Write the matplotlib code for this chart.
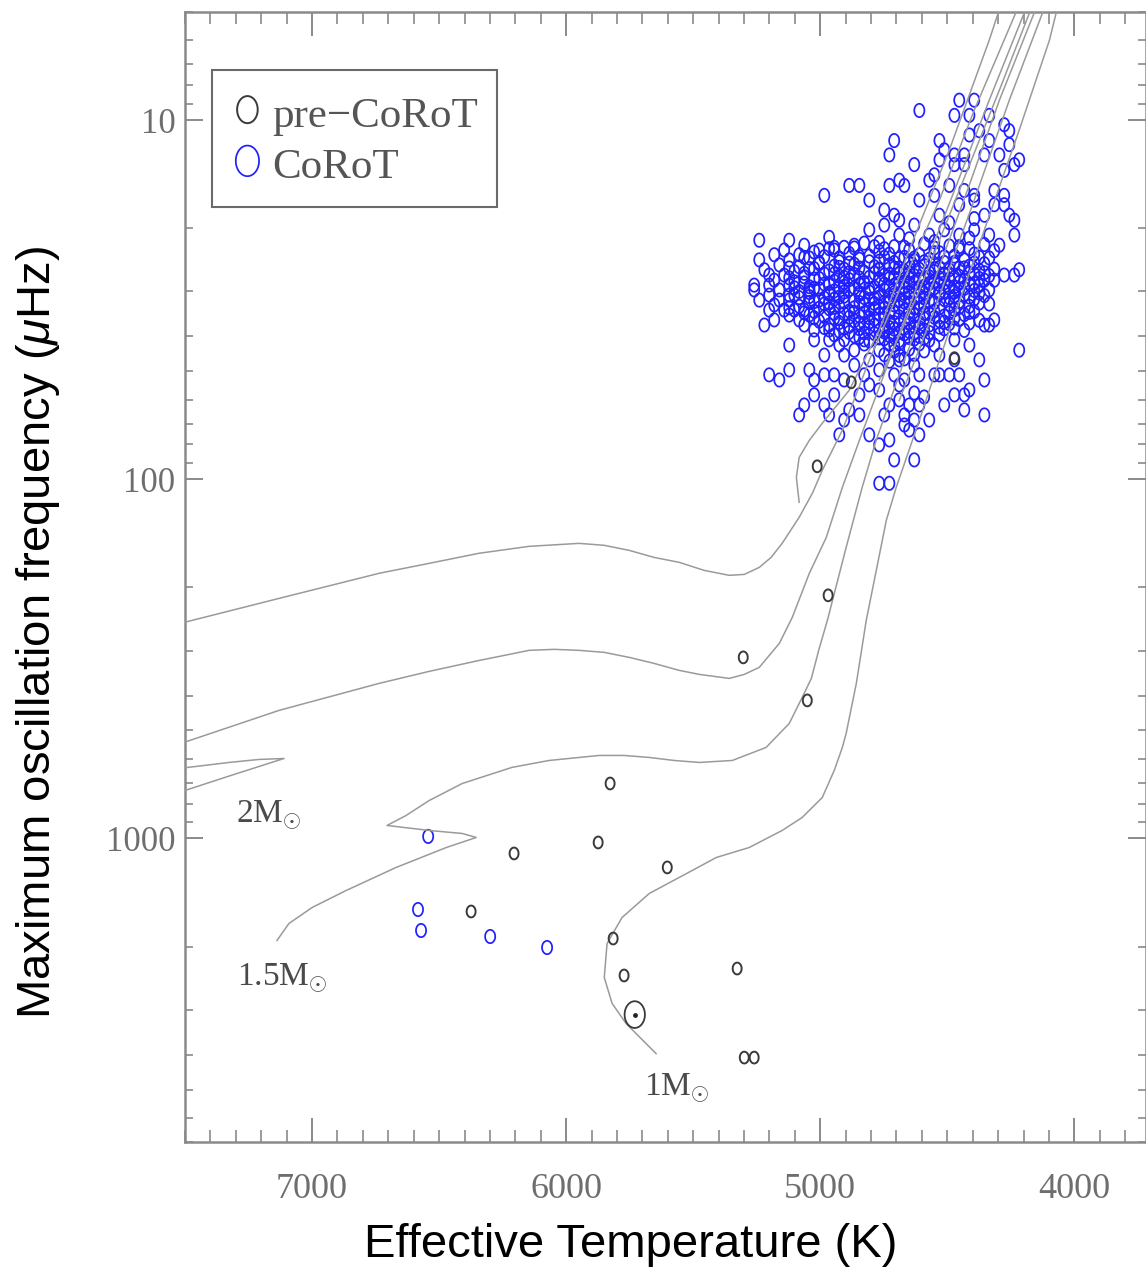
import numpy as np
import matplotlib
matplotlib.use("Agg")
import matplotlib.pyplot as plt
from matplotlib.path import Path
from matplotlib.ticker import FixedLocator, MultipleLocator, LogLocator, NullFormatter
from matplotlib.font_manager import FontProperties

plt.rcParams['mathtext.fontset'] = 'custom'
plt.rcParams['mathtext.rm'] = 'Liberation Sans'
plt.rcParams['mathtext.it'] = 'Liberation Sans:italic'

# ---------------- evolutionary tracks (Teff [K], numax [muHz]) ----------------
trackA_teff = [7520, 7130, 6736, 6539, 6343, 6146, 5949, 5850, 5752, 5654, 5555, 5457, 5358, 5299,
               5240, 5193, 5150, 5083, 5031, 4992, 4913, 4807, 4689, 4531, 4394, 4209]
trackA_numax = [252, 214.6, 182.7, 171.4, 160.7, 153.7, 150.8, 152.7, 157.7, 165.0, 170.3, 179.3,
                185.1, 184.0, 175.9, 164.9, 150.8, 127.6, 109.4, 94.4, 73.0, 46.6, 29.8, 16.7,
                9.38, 4.63]

track2_teff = [7524, 7319, 7110, 7209, 7327, 7457, 7524, 7560, 7560, 7524, 7130, 6736, 6539,
               6343, 6244, 6146, 6047, 5949, 5850, 5752, 5654, 5555, 5476, 5358, 5299, 5240,
               5161, 5110, 5043, 4976, 4913, 4846, 4728, 4610, 4472, 4335, 4177]
track2_numax = [744.6, 667.6, 598.8, 602.6, 614.3, 630.2, 638.3, 638.3, 546.1, 546.1, 440, 370,
                342.6, 319.5, 309.3, 299.4, 297.5, 299.4, 303.3, 313.2, 325.5, 340.4, 349.3,
                358.4, 349.3, 333.9, 286.3, 242.3, 182.7, 145.0, 105.3, 77.9, 46.6, 27.9, 15.7,
                8.80, 4.63]

track15_teff = [7138, 7091, 7000, 6866, 6669, 6472, 6354, 6409, 6539, 6705, 6630, 6539, 6409,
                6213, 6067, 5870, 5772, 5673, 5575, 5476, 5346, 5213, 5122, 5071, 5035, 5004,
                4972, 4898, 4835, 4780, 4669, 4551, 4421, 4295, 4138]
track15_numax = [1923, 1725, 1557, 1396, 1204, 1060, 993.6, 968.5, 950, 920, 863, 784, 703, 634,
                 606.5, 587.3, 587.3, 594.9, 606.5, 614.3, 606.5, 557.8, 478.4, 404.8, 358.4,
                 295.6, 247.1, 154.7, 105.3, 77.9, 46.6, 27.9, 15.7, 8.80, 4.63]

track1_teff = [5646, 5764, 5819, 5850, 5839, 5780, 5673, 5504, 5409, 5280, 5150, 5071, 4992,
               4945, 4913, 4898, 4858, 4819, 4740, 4701, 4610, 4492, 4354, 4217, 4098, 4059]
track1_numax = [3972, 3276, 2880, 2439, 1961, 1660, 1423, 1228, 1129.6, 1060, 950, 874, 769,
                646.7, 557.8, 509.8, 370, 247.1, 130.1, 105.3, 68.5, 38.5, 20.2, 10.66, 5.99, 4.63]

loop_teff = [5083, 5094, 5083, 5043, 4992, 4886, 4768, 4650, 4492, 4335, 4283]
loop_numax = [115.9, 98.7, 86.9, 77.9, 69.8, 56.5, 38.5, 23.0, 12.1, 5.99, 4.63]
agb1_teff = [4768, 4610, 4453, 4295, 4157]
agb1_numax = [53.0, 29.8, 15.7, 8.25, 4.63]
agb2_teff = [4689, 4551, 4394, 4256, 4106]
agb2_numax = [60.3, 33.8, 16.7, 8.80, 4.63]

# ---------------- pre-CoRoT stars ----------------
pre_teff = [5012, 4878, 4472, 4969, 5303, 5051, 5827, 5874, 6205, 5602, 6374, 5815, 5772, 5327, 5299, 5260]
pre_numax = [92.0, 53.7, 46.0, 210.4, 313.2, 412.7, 703, 1026, 1101, 1204, 1597, 1899, 2407, 2302, 4074, 4074]
sun_teff = [5730]
sun_numax = [3093]

# ---------------- CoRoT stars ----------------
corot_dwarfs = [(6543, 987), (6583, 1577), (6571, 1804), (6299, 1875), (6075, 2012)]

corot_upper = [
    (4610, 9.4), (4453, 8.8), (4394, 8.8), (4472, 9.7), (4413, 9.7), (4335, 9.7), (4276, 10.3),
    (4256, 10.7), (4256, 11.7), (4413, 11.0), (4374, 10.7), (4531, 11.4), (4512, 12.1), (4335, 11.4),
    (4354, 12.5), (4295, 12.5), (4709, 11.4), (4728, 12.5), (4630, 13.3), (4531, 12.9), (4472, 12.5),
    (4433, 12.5), (4217, 12.9), (4236, 13.3), (4276, 13.8), (4551, 14.2), (4472, 13.3), (4433, 13.3),
    (4728, 15.2), (4689, 14.7), (4669, 15.2), (4571, 14.7), (4492, 15.2), (4433, 15.7), (4394, 16.2),
    (4315, 15.7), (4276, 16.2), (4276, 17.2), (4256, 18.4), (4236, 19.0), (4236, 20.9), (4886, 15.2),
    (4846, 15.2), (4984, 16.2), (4807, 16.7), (4748, 17.8), (4709, 18.4), (4610, 16.7), (4551, 16.2),
    (4531, 18.4), (4453, 17.2), (4394, 16.7), (4354, 18.4), (4315, 17.2), (5240, 21.6), (5240, 24.5),
    (5201, 27.0), (5260, 28.8), (5083, 23.7), (5004, 23.0), (4945, 23.0), (4866, 22.3), (4807, 20.2),
    (4748, 19.6), (4689, 20.9), (4630, 19.6), (4571, 20.9), (4512, 20.2), (4453, 20.9), (4394, 20.2),
    (4335, 20.9), (4295, 22.3), (4236, 27.0), (4276, 27.0), (4315, 27.9), (4217, 26.1), (4217, 43.7),
    (4354, 37.2), (4315, 36.0), (4689, 19.0), (4492, 19.3), (4394, 18.8),
]

corot_core = [
    (5122, 21.6), (4965, 21.2), (4768, 21.9), (4650, 21.4), (4551, 21.8), (4413, 21.3),
    (5063, 22.3), (4906, 22.6), (4827, 22.0), (4709, 22.5), (4591, 22.1), (4492, 22.4), (4413, 22.8), (4354, 22.2),
    (5142, 23.0), (5024, 23.3), (4965, 22.8), (4768, 23.2), (4650, 23.0), (4531, 23.4), (4453, 22.9), (4315, 23.1),
    (5181, 23.7), (4984, 24.0), (4886, 23.5), (4807, 23.9), (4728, 23.6), (4669, 24.1), (4610, 23.7), (4551, 23.4),
    (4472, 23.9), (4394, 23.6),
    (5122, 24.5), (5043, 24.2), (4925, 24.8), (4846, 24.4), (4768, 24.7), (4689, 24.3), (4630, 24.6), (4571, 24.4),
    (4512, 24.9), (4433, 24.5), (4335, 24.2),
    (5161, 25.3), (5083, 25.6), (5004, 25.1), (4945, 25.5), (4866, 25.2), (4787, 25.6), (4728, 25.3), (4650, 25.0),
    (4591, 25.4), (4531, 25.7), (4472, 25.2), (4413, 25.5), (4354, 25.1),
    (5220, 26.1), (5102, 26.4), (5024, 25.9), (4965, 26.3), (4906, 26.0), (4827, 26.5), (4768, 26.1), (4709, 25.8),
    (4669, 26.3), (4610, 26.0), (4551, 26.4), (4492, 26.1), (4433, 25.8), (4374, 26.2), (4315, 26.0),
    (5142, 27.0), (5063, 27.3), (4984, 26.8), (4925, 27.2), (4866, 26.9), (4807, 27.4), (4748, 27.0), (4689, 26.7),
    (4630, 27.1), (4571, 27.3), (4512, 26.9), (4453, 27.2), (4394, 26.8), (4335, 27.1),
    (5181, 27.9), (5102, 28.2), (5024, 27.7), (4945, 28.1), (4886, 27.8), (4827, 28.3), (4768, 27.9), (4728, 27.6),
    (4669, 28.2), (4610, 27.8), (4551, 28.1), (4492, 27.7), (4433, 28.0), (4354, 27.9),
    (5122, 28.8), (5043, 29.1), (4984, 28.6), (4906, 29.0), (4846, 28.7), (4787, 29.2), (4709, 28.8), (4650, 28.5),
    (4591, 29.0), (4531, 28.7), (4472, 29.1), (4413, 28.6), (4374, 28.9),
    (5161, 29.7), (5083, 30.0), (5004, 29.5), (4945, 29.9), (4886, 29.6), (4807, 30.1), (4748, 29.7), (4689, 29.4),
    (4630, 29.9), (4571, 29.6), (4512, 30.0), (4453, 29.5), (4394, 29.8), (4335, 29.7),
    (5201, 30.7), (5043, 31.0), (4965, 30.5), (4906, 30.9), (4846, 30.6), (4768, 31.1), (4709, 30.7), (4669, 30.4),
    (4610, 30.8), (4531, 30.5), (4472, 30.9), (4433, 30.6), (4354, 30.8),
    (5122, 31.7), (5024, 32.0), (4945, 31.5), (4866, 31.9), (4807, 31.6), (4748, 32.1), (4689, 31.7), (4630, 31.4),
    (4571, 31.9), (4512, 31.6), (4453, 32.0), (4394, 31.5),
    (5181, 32.7), (5083, 33.0), (4984, 32.5), (4925, 32.9), (4827, 32.6), (4768, 33.1), (4709, 32.7), (4650, 32.4),
    (4591, 32.9), (4492, 32.6), (4413, 33.0), (4335, 32.5),
    (5102, 33.8), (5024, 34.1), (4965, 33.5), (4886, 34.0), (4807, 33.6), (4728, 34.2), (4669, 33.8), (4610, 33.5),
    (4551, 34.0), (4472, 33.7), (4394, 34.1),
    (5043, 34.9), (4984, 35.2), (4906, 34.6), (4846, 35.1), (4768, 34.7), (4689, 35.3), (4630, 34.9), (4571, 34.6),
    (4512, 35.1), (4433, 34.8),
    (5083, 36.0), (5004, 36.3), (4925, 35.7), (4866, 36.2), (4787, 35.8), (4728, 36.4), (4669, 36.0), (4591, 35.7),
    (4531, 36.2), (4453, 35.9), (4374, 36.1),
    (4965, 37.2), (4886, 37.5), (4827, 36.9), (4748, 37.4), (4689, 37.0), (4630, 37.6), (4571, 37.2), (4492, 36.9),
    (5024, 38.4), (4925, 38.7), (4846, 38.1), (4768, 38.6), (4709, 38.2), (4650, 38.8), (4591, 38.4), (4512, 38.1),
    (4433, 38.5),
    (4945, 39.6), (4866, 39.9), (4787, 39.3), (4728, 39.8), (4669, 39.4), (4610, 40.0), (4531, 39.5),
    (4906, 40.9), (4807, 41.2), (4748, 40.6), (4689, 41.1), (4630, 40.7), (4571, 41.0),
    (4768, 43.7), (4709, 44.0), (4650, 43.4), (4591, 43.9),
    (4807, 46.5), (4728, 46.9), (4669, 46.2),
]

corot_core_dense = [
    (4945, 22.6), (4866, 22.7), (4787, 22.5), (4748, 22.8), (4669, 22.6), (4551, 22.7), (4453, 22.5),
    (5063, 24.1), (4925, 24.2), (4846, 24.0), (4748, 24.1), (4630, 24.2), (4512, 24.0), (4374, 24.1),
    (5004, 24.9), (4886, 25.0), (4807, 24.8), (4709, 24.9), (4650, 25.1), (4591, 24.8), (4472, 24.9), (4394, 25.0),
    (5122, 25.8), (5043, 25.9), (4925, 25.7), (4846, 25.8), (4768, 26.0), (4689, 25.8), (4630, 25.7), (4551, 25.9),
    (4453, 25.8),
    (5063, 26.7), (4945, 26.8), (4886, 26.6), (4787, 26.7), (4728, 26.9), (4650, 26.7), (4571, 26.6), (4512, 26.8),
    (4413, 26.7), (4354, 26.6),
    (5122, 27.5), (5004, 27.6), (4906, 27.4), (4846, 27.5), (4768, 27.7), (4709, 27.5), (4650, 27.4), (4591, 27.6),
    (4531, 27.5), (4472, 27.4), (4374, 27.6),
    (5063, 28.4), (4965, 28.5), (4906, 28.3), (4827, 28.4), (4748, 28.6), (4689, 28.4), (4630, 28.3), (4571, 28.5),
    (4512, 28.4), (4453, 28.3), (4394, 28.5),
    (5102, 29.3), (5024, 29.4), (4925, 29.2), (4866, 29.3), (4807, 29.5), (4728, 29.3), (4669, 29.2), (4610, 29.4),
    (4551, 29.3), (4492, 29.2), (4433, 29.4),
    (5043, 30.2), (4965, 30.3), (4906, 30.1), (4846, 30.2), (4768, 30.4), (4709, 30.2), (4650, 30.1), (4591, 30.3),
    (4531, 30.2), (4472, 30.1), (4374, 30.3),
    (5083, 31.2), (4984, 31.3), (4925, 31.1), (4827, 31.2), (4787, 31.4), (4728, 31.2), (4650, 31.1), (4591, 31.3),
    (4492, 31.2), (4413, 31.1),
    (5043, 32.2), (4965, 32.3), (4906, 32.1), (4846, 32.2), (4787, 32.4), (4728, 32.2), (4669, 32.1), (4610, 32.3),
    (4551, 32.2), (4472, 32.1), (4374, 32.3),
    (5122, 33.3), (5004, 33.4), (4945, 33.2), (4866, 33.3), (4787, 33.5), (4748, 33.3), (4689, 33.2), (4630, 33.4),
    (4531, 33.3), (4453, 33.2),
    (5063, 34.4), (4945, 34.5), (4866, 34.3), (4827, 34.4), (4748, 34.6), (4709, 34.4), (4650, 34.3), (4591, 34.5),
    (4492, 34.4), (4413, 34.3),
    (5024, 35.5), (4945, 35.6), (4886, 35.4), (4807, 35.5), (4748, 35.7), (4650, 35.5), (4551, 35.4), (4472, 35.6),
    (4925, 36.6), (4846, 36.7), (4807, 36.5), (4709, 36.6), (4650, 36.8), (4610, 36.6), (4512, 36.5), (4413, 36.7),
    (4984, 37.8), (4906, 37.9), (4807, 37.7), (4728, 37.8), (4669, 38.0), (4610, 37.8), (4531, 37.7), (4472, 37.9),
    (4886, 39.0), (4827, 39.1), (4748, 38.9), (4689, 39.0), (4630, 39.2), (4571, 39.0),
    (4846, 40.3), (4768, 40.4), (4709, 40.2), (4650, 40.3), (4591, 40.5),
    (4827, 42.0), (4728, 42.1), (4689, 41.9), (4610, 42.0),
    (4748, 45.0), (4689, 45.2), (4630, 44.9),
]

corot_lower = [
    (5220, 37.2), (5201, 51.2), (5161, 52.9), (5122, 49.6), (5043, 49.6), (5024, 52.9), (4984, 51.2),
    (4945, 51.2), (4906, 52.9), (5083, 66.2), (5063, 62.1), (5024, 58.2), (4984, 62.1), (4965, 66.2),
    (4945, 58.2), (4866, 48.1), (4827, 51.2), (4807, 54.6), (4846, 66.2), (4807, 75.2), (4925, 75.2),
    (4906, 68.4), (4886, 64.1), (4846, 58.2), (4768, 56.4), (4768, 49.6), (4709, 51.2), (4689, 54.6),
    (4669, 52.9), (4630, 57.5), (4591, 59.0), (4748, 66.2), (4728, 62.1), (4689, 60.1), (4669, 66.2),
    (4650, 62.1), (4610, 62.1), (4768, 80.2), (4728, 77.7), (4650, 72.9), (4709, 88.3), (4630, 88.3),
    (4768, 102.6), (4728, 102.6), (4571, 68.4), (4512, 62.1), (4472, 58.2), (4433, 58.2), (4413, 56.4),
    (4354, 52.9), (4433, 64.1), (4354, 66.2), (4374, 46.5), (4335, 37.2), (4472, 40.9), (4551, 42.3),
    (4531, 45.1), (4472, 46.5), (4551, 51.2), (4531, 51.2), (4492, 51.2), (4453, 51.2), (4413, 42.3),
    (4630, 48.1), (4610, 51.2), (4689, 46.5), (4709, 42.3), (4748, 38.4), (4787, 37.2), (4827, 40.9),
    (4866, 43.7), (4906, 45.1), (4925, 42.3), (4965, 40.9), (4984, 45.1), (4965, 38.4), (5024, 40.9),
    (5063, 37.2), (5122, 34.9), (5142, 33.8), (5063, 33.8), (5004, 31.7), (5102, 30.7), (5122, 30.7),
    (5043, 29.7), (5260, 29.7), (5201, 28.8), (4669, 70.6), (4630, 68.4), (4610, 75.2), (5181, 36.0),
    (5240, 31.7), (5161, 31.7), (5122, 42.3), (5201, 33.8),
]

corot_all = corot_upper + corot_core + corot_core_dense + corot_lower + corot_dwarfs
corot_teff = [p[0] for p in corot_all]
corot_numax = [p[1] for p in corot_all]

mass_labels = ['2M$_{\\odot}$', '1.5M$_{\\odot}$', '1M$_{\\odot}$']
mass_label_teff = [7299, 7295, 5693]
mass_label_numax = [902, 2568, 5199]

xticks = [7000, 6000, 5000, 4000]
yticks = [10, 100, 1000]
ytick_labels = ['10', '100', '1000']

# ---------------- figure ----------------
W, H = 1146, 1280
fig = plt.figure(figsize=(W / 100, H / 100), dpi=100)
ax = fig.add_axes([185 / W, 1 - 1142 / H, (1145.5 - 185) / W, (1142 - 12) / H])
ax.set_yscale('log')
ax.set_xlim(7500, 3720)
ax.set_ylim(7000, 5)

# elliptical (vertically stretched) circle marker
t = np.linspace(0, 2 * np.pi, 61)
ell = Path(np.column_stack([0.76 * np.cos(t), np.sin(t)]))

line_kw = dict(color='#9a9a9a', lw=1.1, zorder=4, solid_joinstyle='round')
for tx, ty in [(trackA_teff, trackA_numax), (track2_teff, track2_numax),
               (track15_teff, track15_numax), (track1_teff, track1_numax),
               (loop_teff, loop_numax), (agb1_teff, agb1_numax), (agb2_teff, agb2_numax)]:
    ax.plot(tx, ty, **line_kw)

blue = '#2020ff'
h_corot = ax.scatter(corot_teff, corot_numax, marker=ell, s=92, facecolors='none',
                     edgecolors=blue, linewidths=1.25, zorder=3, label='CoRoT')
h_pre = ax.scatter(pre_teff, pre_numax, marker=ell, s=72, facecolors='none',
                   edgecolors='#3a3a3a', linewidths=1.4, zorder=5, label='pre\u2212CoRoT')
ax.scatter(sun_teff, sun_numax, marker=ell, s=370, facecolors='none',
           edgecolors='#3a3a3a', linewidths=1.3, zorder=5)
ax.scatter(sun_teff, sun_numax, marker='o', s=6, color='#222222', zorder=6)

serif = 'Liberation Serif'
for lab, tx, ty in zip(mass_labels, mass_label_teff, mass_label_numax):
    ax.text(tx, ty, lab, fontfamily=serif, fontsize=24, color='#4a4a4a',
            ha='left', va='baseline', zorder=6)

# ticks
ax.xaxis.set_major_locator(FixedLocator(xticks))
ax.xaxis.set_minor_locator(MultipleLocator(100))
ax.yaxis.set_major_locator(FixedLocator(yticks))
ax.yaxis.set_minor_locator(LogLocator(base=10, subs=np.arange(2, 10), numticks=20))
ax.yaxis.set_minor_formatter(NullFormatter())
ax.set_xticklabels([str(v) for v in xticks])
ax.set_yticklabels(ytick_labels)

tc = '#8a8a8a'
ax.tick_params(axis='x', which='major', direction='in', length=17, width=1.4, color=tc,
               top=True, bottom=True, pad=22, labelsize=26, labelcolor='#6e6e6e')
ax.tick_params(axis='x', which='minor', direction='in', length=8.5, width=1.2, color=tc,
               top=True, bottom=True)
ax.tick_params(axis='y', which='major', direction='in', length=13, width=1.4, color=tc,
               left=True, right=True, pad=7, labelsize=25, labelcolor='#6e6e6e')
ax.tick_params(axis='y', which='minor', direction='in', length=6, width=1.2, color=tc,
               left=True, right=True)
for lbl in ax.get_xticklabels() + ax.get_yticklabels():
    lbl.set_fontfamily(serif)

for sp in ax.spines.values():
    sp.set_color(tc)
    sp.set_linewidth(1.8)

ax.set_xlabel('Effective Temperature (K)', fontsize=34, fontfamily='Liberation Sans', color='black')
ax.xaxis.set_label_coords(0.464, -0.0717)
ax.set_ylabel('Maximum oscillation frequency ($\\mu$Hz)', fontsize=34,
              fontfamily='Liberation Sans', color='black')
ax.yaxis.set_label_coords(-0.128, 0.451)

leg = ax.legend(handles=[h_pre, h_corot], loc='upper left', bbox_to_anchor=(0.028, 0.9487),
                borderaxespad=0, prop=FontProperties(family=serif, size=31), markerscale=2.3,
                handlelength=0.75, handleheight=1.3, handletextpad=0.2, borderpad=0.45,
                labelspacing=0.1, frameon=True, fancybox=False, edgecolor='#6a6a6a',
                framealpha=1, labelcolor='#555555', scatterpoints=1)
leg.get_frame().set_linewidth(1.5)

fig.savefig('out.png', dpi=100)
